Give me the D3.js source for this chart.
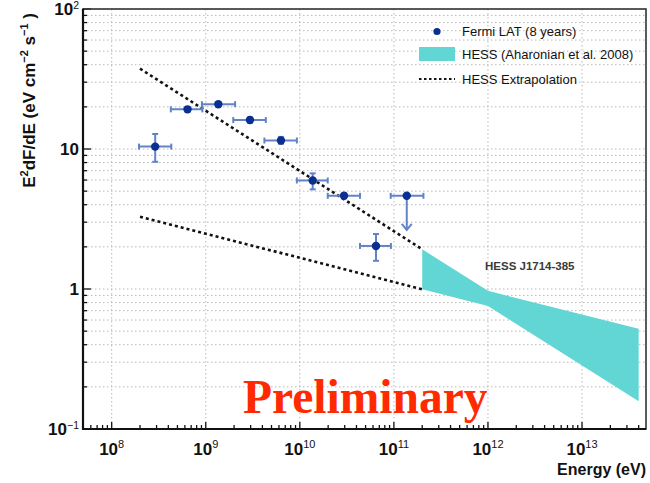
<!DOCTYPE html>
<html><head><meta charset="utf-8">
<script src="https://cdn.jsdelivr.net/npm/d3@7"></script>
<style>body{margin:0;background:#fff}svg{display:block}</style>
</head><body>
<svg id="c" width="650" height="483"></svg>
<script>
// ---- data ----
const fermiE    = [2.9e8, 6.4e8, 1.36e9, 2.95e9, 6.3e9, 1.37e10, 2.95e10, 6.45e10];
const fermiElo  = [1.95e8, 4.25e8, 9.1e8, 1.96e9, 4.2e9, 9.3e9, 1.98e10, 4.36e10];
const fermiEhi  = [4.3e8, 9.2e8, 2.05e9, 4.35e9, 9.3e9, 1.98e10, 4.36e10, 9.3e10];
const fermiF    = [10.4, 19.2, 20.9, 16.1, 11.5, 5.96, 4.63, 2.03];
const fermiFlo  = [8.1, 18.6, 20.3, 15.4, 10.9, 5.15, 4.45, 1.59];
const fermiFhi  = [12.8, 19.8, 21.5, 16.8, 12.2, 6.7, 4.8, 2.47];
const ulE = [1.37e11], ulElo = [9.25e10], ulEhi = [2.06e11], ulF = [4.63], ulTo = [2.64];
const hessE     = [2e11, 1e12, 4e13];
const hessUpper = [1.92, 0.97, 0.52];
const hessLower = [0.995, 0.756, 0.158];
const extrapE     = [2e8, 2e11];
const extrapUpper = [37.5, 1.92];
const extrapLower = [3.28, 0.995];
const xMajor = [1e8, 1e9, 1e10, 1e11, 1e12, 1e13];
const xMajorExp = ["8", "9", "10", "11", "12", "13"];
const yMajor = [0.1, 1, 10, 100];
const yMajorLabels = [["10","\u22121"], ["1",""], ["10",""], ["10","2"]];
const legendLabels = ["Fermi LAT (8 years)", "HESS (Aharonian et al. 2008)", "HESS Extrapolation"];

// ---- layout ----
const L = 83, R = 646, T = 9, B = 429;
const svg = d3.select("#c");
const x = d3.scaleLog().domain([Math.pow(10,7.695), Math.pow(10,13.68)]).range([L, R]);
const y = d3.scaleLog().domain([0.1, 100]).range([B, T]);

const minors = (scale) => {
  const [a,b] = scale.domain(); const out = [];
  for (let e = Math.floor(Math.log10(a)); e <= Math.ceil(Math.log10(b)); e++)
    for (let k = 1; k <= 9; k++) { const v = k*Math.pow(10,e); if (v >= a*0.999 && v <= b*1.001) out.push(v); }
  return out;
};
const xMin = minors(x), yMin = minors(y);

// grid
const grid = svg.append("g").attr("stroke", "#b8b8b8").attr("stroke-width", 1).attr("stroke-dasharray", "1.5,2.5");
grid.selectAll("line.h").data(yMin).join("line").attr("class","h")
  .attr("x1", L).attr("x2", R).attr("y1", d => y(d)).attr("y2", d => y(d));
grid.selectAll("line.v").data(xMajor).join("line").attr("class","v")
  .attr("y1", T).attr("y2", B).attr("x1", d => x(d)).attr("x2", d => x(d));

// HESS band
const bandPts = hessE.map((e,i)=>[x(e), y(hessUpper[i])]).concat(hessE.map((e,i)=>[x(e), y(hessLower[i])]).reverse());
svg.append("path").attr("d", d3.line()(bandPts)).attr("fill", "#62d6d4").attr("stroke", "none");

// extrapolation
const extrapLine = d3.line().x(d => x(d[0])).y(d => y(d[1]));
[extrapUpper, extrapLower].forEach(arr => {
  svg.append("path").attr("d", extrapLine(extrapE.map((e,i)=>[e, arr[i]])))
    .attr("fill","none").attr("stroke","#111").attr("stroke-width",2.6).attr("stroke-dasharray","3,3");
});

// Fermi points
const errC = "#6283c8", ptC = "#0a2f91";
const eg = svg.append("g").attr("stroke", errC).attr("stroke-width", 2).attr("fill","none");
const cap = 3;
fermiE.forEach((e,i) => {
  const cx = x(e), cy = y(fermiF[i]);
  const x0 = x(fermiElo[i]), x1 = x(fermiEhi[i]), y0 = y(fermiFlo[i]), y1 = y(fermiFhi[i]);
  eg.append("line").attr("x1",x0).attr("x2",x1).attr("y1",cy).attr("y2",cy);
  eg.append("line").attr("x1",x0).attr("x2",x0).attr("y1",cy-cap).attr("y2",cy+cap);
  eg.append("line").attr("x1",x1).attr("x2",x1).attr("y1",cy-cap).attr("y2",cy+cap);
  if (y0 - y1 > 2) {
    eg.append("line").attr("x1",cx).attr("x2",cx).attr("y1",y0).attr("y2",y1);
    eg.append("line").attr("x1",cx-cap).attr("x2",cx+cap).attr("y1",y0).attr("y2",y0);
    eg.append("line").attr("x1",cx-cap).attr("x2",cx+cap).attr("y1",y1).attr("y2",y1);
  }
});
ulE.forEach((e,i) => {
  const cx = x(e), cy = y(ulF[i]);
  const x0 = x(ulElo[i]), x1 = x(ulEhi[i]), yt = y(ulTo[i]);
  eg.append("line").attr("x1",x0).attr("x2",x1).attr("y1",cy).attr("y2",cy);
  eg.append("line").attr("x1",x0).attr("x2",x0).attr("y1",cy-cap).attr("y2",cy+cap);
  eg.append("line").attr("x1",x1).attr("x2",x1).attr("y1",cy-cap).attr("y2",cy+cap);
  eg.append("line").attr("x1",cx).attr("x2",cx).attr("y1",cy).attr("y2",yt);
  eg.append("path").attr("d", `M${cx-5},${yt-6}L${cx},${yt}L${cx+5},${yt-6}`);
});
svg.append("g").selectAll("circle").data(fermiE.map((e,i)=>[e,fermiF[i]]).concat(ulE.map((e,i)=>[e,ulF[i]])))
  .join("circle").attr("cx", d=>x(d[0])).attr("cy", d=>y(d[1])).attr("r", 4.2).attr("fill", ptC);

// axes (ticks inside)
const ax = svg.append("g").attr("stroke","#111");
ax.selectAll("line.ym").data(yMin).join("line")
  .attr("x1", L).attr("x2", d => L + (yMajor.includes(d) ? 8 : 4)).attr("y1", d=>y(d)).attr("y2", d=>y(d)).attr("stroke-width",1.3);
ax.selectAll("line.xm").data(xMin).join("line")
  .attr("y1", B).attr("y2", d => B - (xMajor.some(v=>Math.abs(v-d)/v<1e-6) ? 7 : 4)).attr("x1", d=>x(d)).attr("x2", d=>x(d)).attr("stroke-width",1.3);
svg.append("rect").attr("x",L).attr("y",T).attr("width",R-L).attr("height",B-T)
  .attr("fill","none").attr("stroke","#333").attr("stroke-width",1.6);
svg.append("line").attr("x1",L).attr("x2",L).attr("y1",T).attr("y2",B+1).attr("stroke","#111").attr("stroke-width",2.2);
svg.append("line").attr("x1",L).attr("x2",R).attr("y1",B).attr("y2",B).attr("stroke","#111").attr("stroke-width",2.2);

const FONT = "'Liberation Sans', Arial, Helvetica, sans-serif";
// x labels
xMajor.forEach((v,i) => {
  const t = svg.append("text").attr("x", x(v)).attr("y", 455).attr("text-anchor","middle")
    .attr("font-family",FONT).attr("font-weight","bold").attr("font-size",17).attr("fill","#111");
  t.append("tspan").text("10");
  t.append("tspan").attr("dy",-7).attr("font-size",11).attr("font-weight","normal").text(xMajorExp[i]);
});
// y labels
yMajor.forEach((v,i) => {
  const t = svg.append("text").attr("x", 79).attr("y", y(v)+6).attr("text-anchor","end")
    .attr("font-family",FONT).attr("font-weight","bold").attr("font-size",17).attr("fill","#111");
  t.append("tspan").text(yMajorLabels[i][0]);
  if (yMajorLabels[i][1]) t.append("tspan").attr("dy",-6).attr("font-size",10.5).attr("font-weight","normal").text(yMajorLabels[i][1]);
});
// axis titles
svg.append("text").attr("x", R).attr("y", 474.5).attr("text-anchor","end")
  .attr("font-family",FONT).attr("font-weight","bold").attr("font-size",16).attr("fill","#111").text("Energy (eV)");
const yt = svg.append("text").attr("transform","translate(35,13) rotate(-90)").attr("text-anchor","end")
  .attr("font-family",FONT).attr("font-weight","bold").attr("font-size",17).attr("fill","#111");
yt.append("tspan").text("E");
yt.append("tspan").attr("font-size",11).attr("dy",-7).text("2");
yt.append("tspan").attr("dy",7).text("dF/dE (eV cm");
yt.append("tspan").attr("font-size",11).attr("dy",-7).text("\u22122");
yt.append("tspan").attr("dy",7).text(" s");
yt.append("tspan").attr("font-size",11).attr("dy",-7).text("\u22121");
yt.append("tspan").attr("dy",7).text(" )");

// legend
const lg = svg.append("g").attr("font-family",FONT).attr("font-size",13).attr("fill","#111");
lg.append("circle").attr("cx",437).attr("cy",31.5).attr("r",3.6).attr("fill",ptC);
lg.append("rect").attr("x",419).attr("y",47).attr("width",36).attr("height",14).attr("fill","#62d6d4");
lg.append("line").attr("x1",419).attr("x2",455).attr("y1",79).attr("y2",79).attr("stroke","#111").attr("stroke-width",2.2).attr("stroke-dasharray","2.5,2.5");
legendLabels.forEach((s,i) => lg.append("text").attr("x",462).attr("y",[36,58.5,84][i]).text(s));

// annotations
svg.append("text").attr("x",485).attr("y",270).attr("font-family",FONT).attr("font-weight","bold")
  .attr("font-size",11.5).attr("fill","#3a3a3a").text("HESS J1714-385");
svg.append("text").attr("x",243).attr("y",413).attr("font-family","'Liberation Serif','Times New Roman',serif")
  .attr("font-weight","bold").attr("font-size",47.5).attr("fill","#ff2a00").text("Preliminary");
</script>
</body></html>
